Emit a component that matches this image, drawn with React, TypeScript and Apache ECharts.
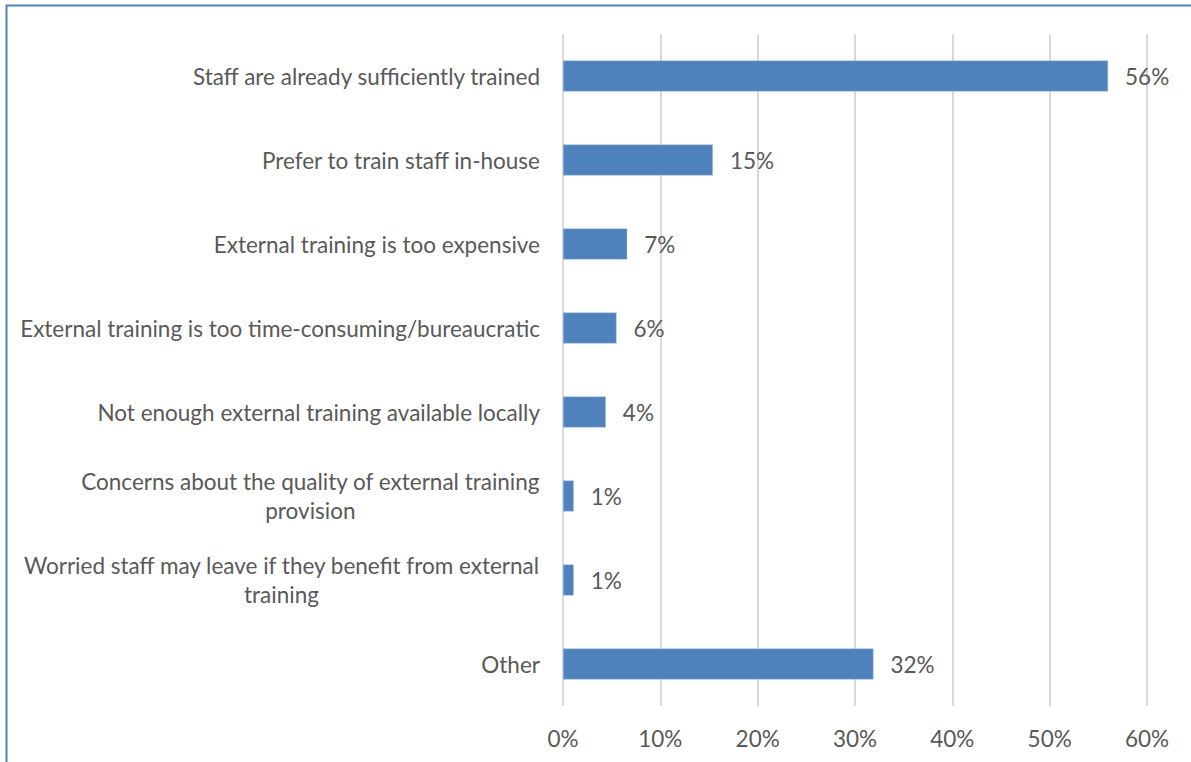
import React, { useEffect, useRef } from "react";
import * as echarts from "echarts";

const categories: string[] = [
  "Staff are already sufficiently trained",
  "Prefer to train staff in-house",
  "External training is too expensive",
  "External training is too time-consuming/bureaucratic",
  "Not enough external training available locally",
  "Concerns about the quality of external training\nprovision",
  "Worried staff may leave if they benefit from external\ntraining",
  "Other",
];
const values: number[] = [56, 15.4, 6.6, 5.5, 4.4, 1.1, 1.1, 31.9];
const valueLabels: string[] = ["56%", "15%", "7%", "6%", "4%", "1%", "1%", "32%"];
const xTicks: number[] = [0, 10, 20, 30, 40, 50, 60];

const FONT = "Lato, 'Open Sans', sans-serif";
const TEXT = "#595959";
const FS = 22.5;

export default function App() {
  const ref = useRef<HTMLDivElement>(null);
  useEffect(() => {
    if (!ref.current) return;
    const chart = echarts.init(ref.current, null, { renderer: "svg" });
    chart.setOption({
      animation: false,
      backgroundColor: "#ffffff",
      textStyle: { fontFamily: FONT },
      graphic: [
        {
          type: "rect",
          shape: { x: 6.5, y: 5.5, width: 1300, height: 900 },
          style: { fill: "none", stroke: "#4F81BD", lineWidth: 2 },
          silent: true,
        },
      ],
      grid: { left: 563, right: 44, top: 34, bottom: 56, containLabel: false },
      xAxis: {
        type: "value",
        min: xTicks[0],
        max: xTicks[xTicks.length - 1],
        interval: 10,
        axisLine: { show: false },
        axisTick: { show: false },
        splitLine: { show: true, lineStyle: { color: "#D9D9D9", width: 2 } },
        axisLabel: {
          formatter: "{value}%",
          color: TEXT,
          fontSize: FS,
          fontFamily: FONT,
          margin: 21,
        },
      },
      yAxis: {
        type: "category",
        inverse: true,
        data: categories,
        axisLine: { show: false },
        axisTick: { show: false },
        splitLine: { show: false },
        axisLabel: {
          color: TEXT,
          fontSize: FS,
          fontFamily: FONT,
          margin: 23,
          align: "right",
          lineHeight: 29,
          formatter: (v: string) =>
            v.indexOf("\n") >= 0
              ? v.split("\n").map((l) => `{c|${l}}`).join("\n")
              : v,
          rich: {
            c: {
              align: "center",
              color: TEXT,
              fontSize: FS,
              fontFamily: FONT,
              lineHeight: 29,
            },
          },
        },
      },
      series: [
        {
          type: "bar",
          data: values,
          barWidth: 31,
          itemStyle: { color: "#4F81BD", borderColor: "#A9C0E0", borderWidth: 0.5 },
          label: {
            show: true,
            position: "right",
            distance: 17,
            color: TEXT,
            fontSize: FS,
            fontFamily: FONT,
            formatter: (p: any) => valueLabels[p.dataIndex],
          },
        },
      ],
    });
    return () => chart.dispose();
  }, []);
  return (
    <div
      ref={ref}
      style={{ position: "fixed", left: 0, top: 0, width: 1191, height: 762 }}
    />
  );
}
